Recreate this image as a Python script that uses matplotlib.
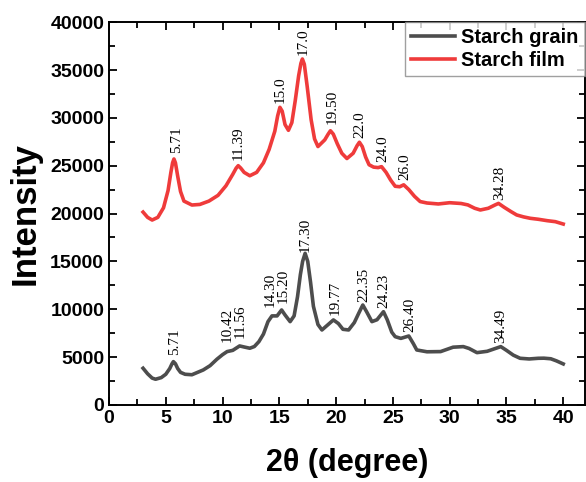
import matplotlib
matplotlib.use("Agg")
import matplotlib.pyplot as plt
from matplotlib.ticker import MultipleLocator

# Starch film (red)
film_x = [3.0, 3.4, 3.8, 4.3, 4.8, 5.2, 5.45, 5.6, 5.72, 5.85, 6.05, 6.3, 6.6, 7.3, 8.0, 8.8,
          9.6, 10.3, 10.9, 11.2, 11.38, 11.6, 11.9, 12.4, 13.0, 13.6, 14.1, 14.6, 14.85,
          15.05, 15.25, 15.5, 15.8, 16.1, 16.4, 16.7, 16.9, 17.03, 17.2, 17.45, 17.8, 18.1,
          18.4, 19.0, 19.3, 19.5, 19.75, 20.1, 20.5, 20.95, 21.5, 21.85, 22.05, 22.3, 22.6,
          22.9, 23.3, 23.7, 24.0, 24.4, 24.8, 25.2, 25.6, 25.95, 26.4, 26.9, 27.4, 28.0,
          29.0, 30.0, 31.0, 31.6, 32.2, 32.7, 33.4, 34.0, 34.3, 34.8, 35.4, 35.9, 36.5,
          37.1, 37.8, 38.6, 39.3, 40.0]
film_y = [20150, 19600, 19320, 19600, 20600, 22400, 24300, 25300, 25700, 25300, 23900, 22300,
          21300, 20890, 20950, 21300, 21900, 22900, 24100, 24750, 25000, 24750, 24300, 23950,
          24300, 25300, 26700, 28600, 30200, 31100, 30700, 29300, 28700, 29500, 31800, 34400,
          35700, 36150, 35600, 33300, 29800, 27800, 27000, 27700, 28300, 28650, 28300, 27300,
          26300, 25750, 26300, 27100, 27450, 27000, 25900, 25100, 24850, 24800, 24900, 24300,
          23500, 22850, 22800, 23000, 22500, 21800, 21250, 21100, 21000, 21130, 21050, 20900,
          20550, 20370, 20550, 20900, 21060, 20650, 20200, 19850, 19650, 19500, 19400, 19250,
          19150, 18900]

# Starch grain (gray)
grain_x = [3.0, 3.4, 3.8, 4.1, 4.6, 5.0, 5.35, 5.55, 5.67, 5.85, 6.05, 6.3, 6.7, 7.3, 8.3,
           8.9, 9.5, 10.0, 10.4, 10.9, 11.5, 11.9, 12.4, 12.8, 13.2, 13.6, 14.0, 14.35, 14.8,
           15.2, 15.5, 15.95, 16.3, 16.6, 16.85, 17.05, 17.27, 17.5, 17.75, 18.0, 18.4,
           18.75, 19.3, 19.76, 20.2, 20.6, 21.1, 21.6, 22.0, 22.35, 22.7, 23.15, 23.6, 24.17,
           24.5, 24.9, 25.2, 25.7, 26.4, 26.8, 27.1, 28.0, 29.2, 30.3, 31.2, 31.7, 32.4,
           33.3, 34.5, 35.0, 35.6, 36.2, 37.0, 37.8, 38.3, 38.9, 39.4, 40.0]
grain_y = [3830, 3250, 2800, 2680, 2850, 3200, 3800, 4300, 4520, 4300, 3800, 3400, 3200, 3150,
           3650, 4100, 4770, 5250, 5570, 5700, 6160, 6050, 5920, 6100, 6610, 7400, 8700, 9300,
           9300, 9920, 9400, 8700, 9300, 11300, 13600, 15000, 15840, 15000, 12800, 10300,
           8400, 7830, 8400, 8880, 8500, 7900, 7830, 8600, 9600, 10440, 9700, 8700, 8900,
           9740, 8900, 7600, 7130, 6950, 7200, 6400, 5740, 5550, 5570, 6030, 6090, 5900, 5460,
           5600, 6090, 5700, 5200, 4870, 4800, 4870, 4880, 4820, 4600, 4280]

# peak labels: text, x centre, y of label bottom
film_lab = ["5.71", "11.39", "15.0", "17.0", "19.50", "22.0", "24.0", "26.0", "34.28"]
film_lab_x = [5.96, 11.39, 15.07, 17.12, 19.62, 22.11, 24.11, 26.08, 34.39]
film_lab_y = [26300, 25600, 31500, 36550, 29400, 27850, 25400, 23500, 21400]

grain_lab = ["5.71", "10.42", "11.56", "14.30", "15.20", "17.30", "19.77", "22.35", "24.23",
             "26.40", "34.49"]
grain_lab_x = [5.81, 10.37, 11.54, 14.19, 15.36, 17.27, 19.91, 22.47, 24.23, 26.46, 34.45]
grain_lab_y = [5220, 6610, 7030, 10270, 10620, 16010, 9400, 10790, 10100, 7660, 6440]

gray = "#4d4d4d"
red = "#ef3b3b"

plt.rcParams["font.family"] = "Liberation Sans"
plt.rcParams["font.weight"] = "bold"

fig = plt.figure(figsize=(5.86, 4.82), dpi=100)
ax = fig.add_axes([0.186, 0.160, 0.812, 0.794])

ax.plot(grain_x, grain_y, color=gray, lw=2.6, label="Starch grain",
        solid_joinstyle="round")
ax.plot(film_x, film_y, color=red, lw=2.6, label="Starch film",
        solid_joinstyle="round")

for t, x, y in zip(film_lab, film_lab_x, film_lab_y):
    ax.text(x, y, t, rotation=90, ha="center", va="bottom", fontsize=11,
            family="Liberation Serif", fontweight="normal")
for t, x, y in zip(grain_lab, grain_lab_x, grain_lab_y):
    ax.text(x, y, t, rotation=90, ha="center", va="bottom", fontsize=11,
            family="Liberation Serif", fontweight="normal")

ax.set_xlim(0, 41.9)
ax.set_ylim(0, 40000)
ax.xaxis.set_major_locator(MultipleLocator(5))
ax.xaxis.set_minor_locator(MultipleLocator(2.5))
ax.yaxis.set_major_locator(MultipleLocator(5000))
ax.yaxis.set_minor_locator(MultipleLocator(2500))
ax.tick_params(which="both", direction="in", top=True, right=True, width=1.3,
               labelsize=14)
ax.tick_params(which="major", length=6)
ax.tick_params(which="minor", length=4)
for s in ax.spines.values():
    s.set_linewidth(1.4)

ax.set_xlabel("2θ (degree)", fontsize=22, fontweight="bold", labelpad=15)
ax.set_ylabel("Intensity", fontsize=25, fontweight="bold", labelpad=6)

leg = ax.legend(loc="upper right", fontsize=14.5, frameon=True, fancybox=False,
                borderaxespad=0, handlelength=2.2, borderpad=0.3, labelspacing=0.2,
                handletextpad=0.3, handleheight=0.7)
leg.get_frame().set_edgecolor("#888888")
leg.get_frame().set_linewidth(1.0)

fig.savefig("out.png", dpi=100)
